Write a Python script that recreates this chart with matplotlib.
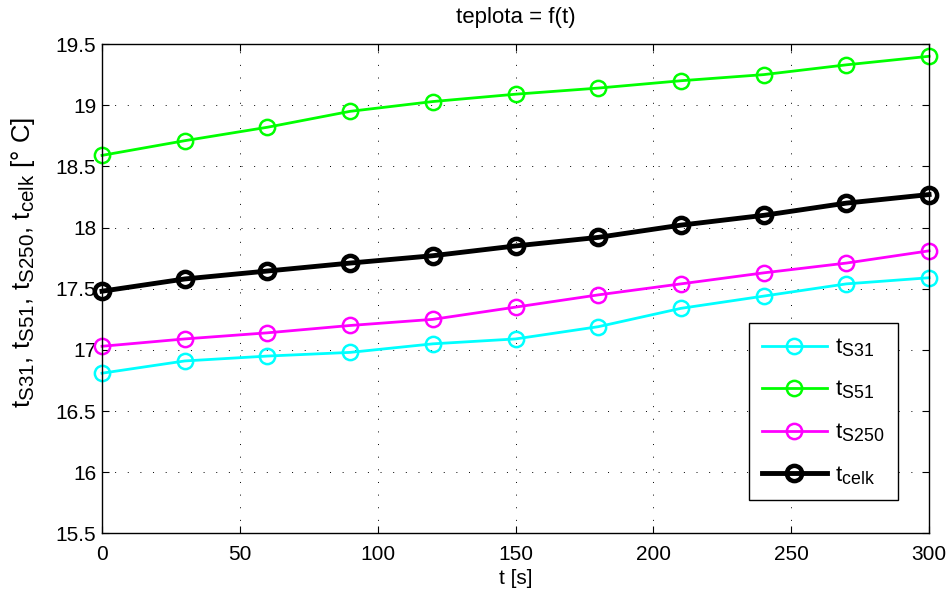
import matplotlib
matplotlib.use("Agg")
import matplotlib.pyplot as plt
try:
    import matplotlib._mathtext as _mt
    _mt.SHRINK_FACTOR = 0.8
except Exception:
    pass

plt.rcParams['font.family'] = ['Liberation Sans', 'DejaVu Sans']
plt.rcParams['mathtext.fontset'] = 'custom'
plt.rcParams['mathtext.rm'] = 'Liberation Sans'
plt.rcParams['mathtext.it'] = 'Liberation Sans'
plt.rcParams['mathtext.default'] = 'regular'

t = [0, 30, 60, 90, 120, 150, 180, 210, 240, 270, 300]
t_S31 = [16.81, 16.91, 16.95, 16.98, 17.05, 17.09, 17.19, 17.34, 17.44, 17.54, 17.59]
t_S51 = [18.59, 18.71, 18.82, 18.95, 19.03, 19.09, 19.14, 19.20, 19.25, 19.33, 19.40]
t_S250 = [17.03, 17.09, 17.14, 17.20, 17.25, 17.35, 17.45, 17.54, 17.63, 17.71, 17.81]
t_celk = [17.48, 17.58, 17.645, 17.71, 17.77, 17.85, 17.92, 18.02, 18.10, 18.20, 18.27]

labels = [r'$t_{S31}$', r'$t_{S51}$', r'$t_{S250}$', r'$t_{celk}$']
xticks = [0, 50, 100, 150, 200, 250, 300]
yticks = [15.5, 16, 16.5, 17, 17.5, 18, 18.5, 19, 19.5]

fig = plt.figure(figsize=(9.5, 5.91), dpi=100)
ax = fig.add_axes([0.1074, 0.0973, 0.8706, 0.8282])

ax.plot(t, t_S31, color='#00ffff', lw=2, marker='o', ms=11, mfc='none', mew=1.8, label=labels[0])
ax.plot(t, t_S51, color='#00ff00', lw=2, marker='o', ms=11, mfc='none', mew=1.8, label=labels[1])
ax.plot(t, t_S250, color='#ff00ff', lw=2, marker='o', ms=11, mfc='none', mew=1.8, label=labels[2])
ax.plot(t, t_celk, color='black', lw=3.5, marker='o', ms=11, mfc='none', mew=3.2, label=labels[3])

ax.set_xlim(0, 300)
ax.set_ylim(15.5, 19.5)
ax.set_xticks(xticks)
ax.set_yticks(yticks)
ax.set_yticklabels([f'{v:g}' for v in yticks])
ax.tick_params(direction='in', top=True, right=True, labelsize=15, length=5, width=0.8)
ax.tick_params(axis='x', pad=8)
ax.tick_params(axis='y', pad=4)
ax.grid(True, color='black', linestyle=(0, (1, 12)), linewidth=0.7)
for s in ax.spines.values():
    s.set_linewidth(1.0)
    s.set_zorder(5)
for line in ax.lines:
    line.set_clip_on(False)

ax.set_title('teplota = f(t)', fontsize=16, pad=15)
ax.set_xlabel('t [s]', fontsize=15, labelpad=4)
ax.set_ylabel(r'$t_{S31}$, $t_{S51}$, $t_{S250}$, $t_{celk}$ [° C]', fontsize=18.5)
ax.yaxis.set_label_coords(-0.079, 0.553)

leg = ax.legend(loc='lower right', bbox_to_anchor=(0.9625, 0.0684), fontsize=16,
                frameon=True, fancybox=False, handlelength=2.9, labelspacing=0.9,
                borderpad=0.6, handletextpad=0.4, borderaxespad=0)
leg.get_frame().set_edgecolor('black')
leg.get_frame().set_linewidth(1.0)
leg.get_frame().set_alpha(1)

fig.savefig('out.png', dpi=100)
